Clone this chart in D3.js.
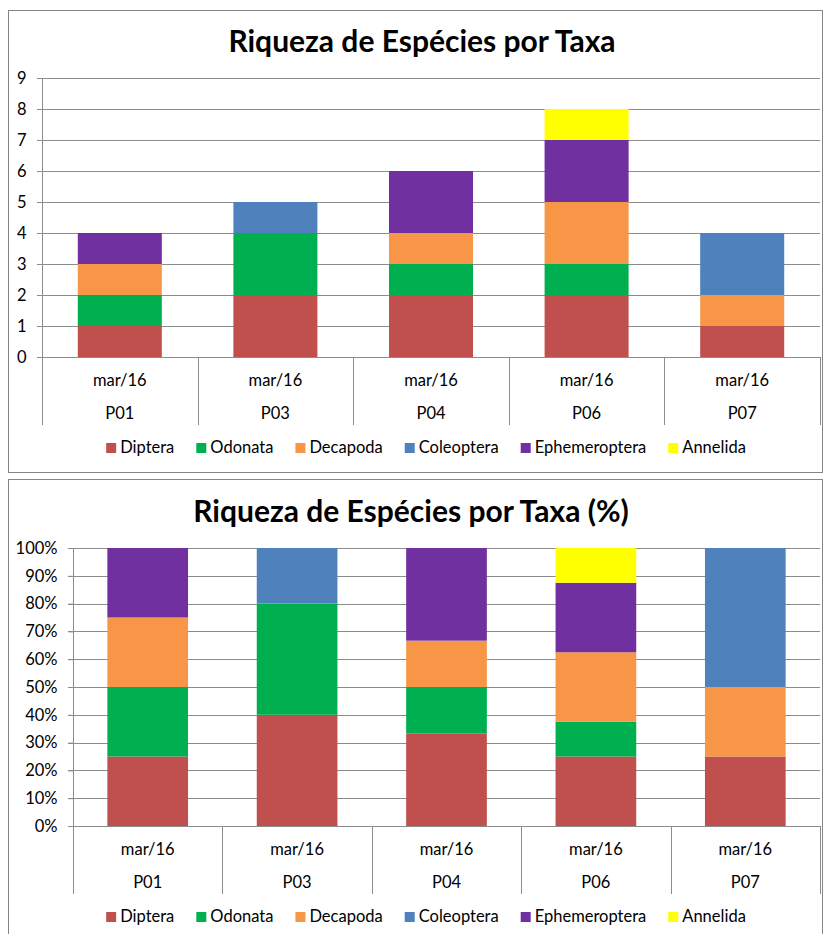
<!DOCTYPE html>
<html>
<head>
<meta charset="utf-8">
<script src="https://cdn.jsdelivr.net/npm/d3@7"></script>
<style>
  body { margin: 0; background: #fff; }
  svg { display: block; font-family: Lato, "Open Sans", sans-serif; }
</style>
</head>
<body>
<svg id="chart" width="823" height="934"></svg>
<script>
const sites = ["P01", "P03", "P04", "P06", "P07"];
const dateLabel = "mar/16";
const taxa = ["Diptera", "Odonata", "Decapoda", "Coleoptera", "Ephemeroptera", "Annelida"];
const taxaColors = ["#C0504D", "#00B050", "#F79646", "#4F81BD", "#7030A0", "#FFFF00"];

// species counts per site, one array per taxon (order follows sites)
const diptera       = [1, 2, 2, 2, 1];
const odonata       = [1, 2, 1, 1, 0];
const decapoda      = [1, 0, 1, 2, 1];
const coleoptera    = [0, 1, 0, 0, 2];
const ephemeroptera = [1, 0, 2, 2, 0];
const annelida      = [0, 0, 0, 1, 0];

const countTicks = [0, 1, 2, 3, 4, 5, 6, 7, 8, 9];
const pctTicks = [0, 0.1, 0.2, 0.3, 0.4, 0.5, 0.6, 0.7, 0.8, 0.9, 1];

const series = [diptera, odonata, decapoda, coleoptera, ephemeroptera, annelida];
const rows = sites.map((s, i) => {
  const r = { site: s };
  taxa.forEach((t, k) => r[t] = series[k][i]);
  return r;
});
const pctRows = rows.map(r => {
  const tot = d3.sum(taxa, t => r[t]);
  const o = { site: r.site };
  taxa.forEach(t => o[t] = r[t] / tot);
  return o;
});

const color = d3.scaleOrdinal().domain(taxa).range(taxaColors);
const svg = d3.select("#chart");
const grid = "#8c8c8c";
const fs = "16.5px";

function drawPanel(cfg) {
  const g = svg.append("g");
  g.append("rect")
    .attr("x", 8.5).attr("y", cfg.panelTop + 0.5)
    .attr("width", 814).attr("height", cfg.panelH)
    .attr("fill", "#fff").attr("stroke", "#868686");

  g.append("text")
    .attr("x", cfg.titleX).attr("y", cfg.titleY)
    .attr("text-anchor", "middle")
    .style("font-size", "30px").style("font-weight", "bold")
    .attr("fill", "#000")
    .text(cfg.title);

  const x = d3.scaleBand().domain(sites).range([cfg.left, 820]).padding(0);
  const y = d3.scaleLinear().domain(cfg.domain).range([cfg.bottom, cfg.top]);

  // gridlines
  g.append("g").selectAll("line").data(cfg.ticks).join("line")
    .attr("x1", cfg.left - 5).attr("x2", 820)
    .attr("y1", d => Math.round(y(d)) + 0.5).attr("y2", d => Math.round(y(d)) + 0.5)
    .attr("stroke", grid).attr("stroke-width", 1);

  // stacked bars
  const stack = d3.stack().keys(taxa)(cfg.data);
  const bw = x.bandwidth() * 0.54;
  g.append("g").selectAll("g").data(stack).join("g")
    .attr("fill", d => color(d.key))
    .selectAll("rect").data(d => d).join("rect")
    .attr("x", d => x(d.data.site) + (x.bandwidth() - bw) / 2)
    .attr("width", bw)
    .attr("y", d => y(d[1]))
    .attr("height", d => y(d[0]) - y(d[1]));

  // y axis
  const ya = g.append("g").attr("transform", `translate(${cfg.left + 0.5},0)`)
    .call(d3.axisLeft(y).tickValues(cfg.ticks).tickFormat(cfg.fmt).tickSize(5).tickPadding(cfg.pad));
  ya.select(".domain").attr("stroke", grid).attr("d", `M0,${cfg.top}V${cfg.bottom + 68}`);
  ya.selectAll(".tick line").attr("stroke", grid);
  ya.selectAll(".tick text").style("font-size", fs).attr("fill", "#000")
    .style("font-family", "Lato, sans-serif");

  // category dividers below axis
  const bounds = sites.map(s => x(s)).concat([820]);
  g.append("g").selectAll("line").data(bounds.slice(1)).join("line")
    .attr("x1", d => Math.round(d) + 0.5).attr("x2", d => Math.round(d) + 0.5)
    .attr("y1", cfg.bottom).attr("y2", cfg.bottom + 68)
    .attr("stroke", grid);

  const lab = g.append("g").selectAll("g").data(sites).join("g")
    .attr("transform", d => `translate(${x(d) + x.bandwidth() / 2},0)`)
    .style("font-size", fs).attr("text-anchor", "middle").attr("fill", "#000");
  lab.append("text").attr("y", cfg.bottom + 29).text(dateLabel);
  lab.append("text").attr("y", cfg.bottom + 62).text(d => d);

  // legend
  const leg = g.append("g").attr("transform", `translate(0,${cfg.legendY})`);
  const items = leg.selectAll("g").data(taxa).join("g");
  items.append("rect").attr("y", -10).attr("width", 10).attr("height", 10).attr("fill", d => color(d));
  items.append("text").attr("x", 14).attr("y", 0).style("font-size", fs).attr("fill", "#000").text(d => d);
  let xpos = 0;
  const offs = [];
  items.each(function () {
    offs.push(xpos);
    const w = d3.select(this).select("text").node().getComputedTextLength();
    xpos += 14 + w + 22;
  });
  const total = xpos - 22;
  const start = 426 - total / 2;
  items.attr("transform", (d, i) => `translate(${start + offs[i]},0)`);
}

drawPanel({
  panelTop: 10, panelH: 462,
  title: "Riqueza de Espécies por Taxa", titleX: 422, titleY: 52,
  left: 42, top: 78, bottom: 357, domain: [0, 9], ticks: countTicks,
  fmt: d3.format("d"), pad: 11, data: rows, legendY: 453
});

drawPanel({
  panelTop: 479, panelH: 470,
  title: "Riqueza de Espécies por Taxa (%)", titleX: 411, titleY: 522,
  left: 73, top: 548, bottom: 826, domain: [0, 1], ticks: pctTicks,
  fmt: d3.format(".0%"), pad: 11, data: pctRows, legendY: 922
});
</script>
</body>
</html>
